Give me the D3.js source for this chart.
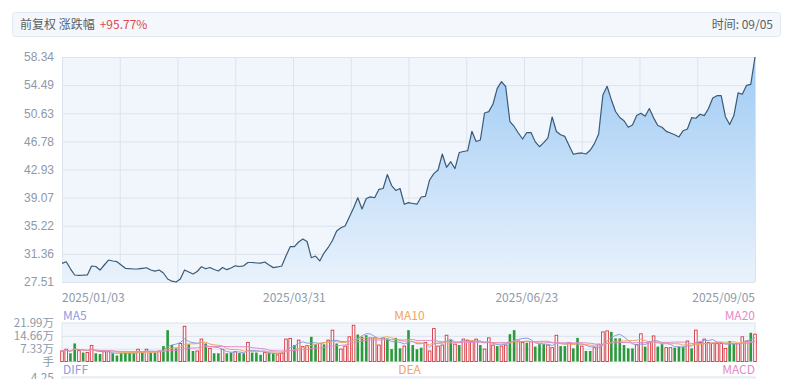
<!DOCTYPE html>
<html>
<head>
<meta charset="utf-8">
<script src="https://cdn.jsdelivr.net/npm/d3@7"></script>
<style>
    body { margin: 0; background: #fff; font-family: "Noto Sans CJK SC", "Noto Sans", sans-serif; }
    .tick-label { font-size: 12px; fill: #8e99aa; }
    .vol-label { font-size: 11.5px; }
</style>
</head>
<body>
<svg id="chart" width="792" height="379"></svg>
<script>
// daily close (front-adjusted), 2025/01/03 .. 2025/09/05
const closePrices = [
    30.07, 30.28, 29.32, 28.47, 28.43, 28.44, 28.47, 29.70, 29.63, 29.15,
    29.84, 30.52, 30.39, 30.29, 29.84, 29.39, 29.33, 29.29, 29.32, 29.39,
    29.46, 29.15, 28.99, 29.15, 28.74, 27.92, 27.62, 27.51, 27.92, 29.15,
    28.88, 28.61, 28.95, 29.61, 29.32, 29.50, 29.22, 29.02, 29.50, 29.20,
    29.43, 29.73, 29.63, 29.73, 30.18, 30.18, 30.11, 30.09, 30.25, 29.84,
    29.48, 29.57, 29.70, 31.07, 32.35, 32.35, 32.99, 33.40, 33.06, 30.84,
    31.07, 30.39, 31.48, 32.24, 33.20, 34.50, 34.95, 35.18, 36.42, 37.65,
    39.06, 37.51, 38.95, 39.18, 39.05, 40.21, 40.32, 42.24, 40.73, 40.05,
    40.32, 38.16, 38.38, 38.27, 38.17, 39.16, 39.23, 41.49, 42.36, 42.86,
    45.05, 43.23, 43.99, 43.05, 45.25, 45.39, 45.49, 48.16, 46.76, 46.97,
    50.67, 50.85, 51.90, 54.05, 54.96, 54.30, 49.50, 48.82, 47.93, 47.10,
    47.99, 47.99, 46.71, 46.05, 46.60, 47.26, 50.12, 48.13, 47.68, 47.46,
    46.21, 45.01, 45.14, 45.19, 45.05, 45.56, 46.47, 47.79, 53.13, 54.33,
    52.49, 50.87, 50.05, 49.61, 48.72, 49.02, 50.32, 50.63, 50.23, 51.28,
    50.00, 48.95, 48.71, 48.15, 47.93, 47.68, 47.39, 48.24, 48.47, 50.02,
    49.95, 50.50, 50.30, 51.28, 52.72, 53.04, 53.04, 50.16, 49.09, 50.32,
    53.43, 53.23, 54.46, 54.59, 58.34
];

// daily volume, unit 万手
const volumes = [
    6.0, 7.0, 4.7, 10.3, 6.2, 5.1, 5.1, 9.2, 4.7, 4.3,
    5.6, 5.6, 4.7, 3.4, 4.7, 5.1, 5.1, 5.1, 7.0, 5.1,
    7.0, 5.1, 5.1, 6.0, 8.8, 17.9, 9.4, 7.5, 10.3, 20.1,
    9.8, 6.0, 6.0, 12.8, 10.3, 7.5, 4.7, 4.7, 7.0, 4.7,
    5.1, 5.6, 4.9, 4.7, 10.9, 5.1, 5.1, 3.8, 5.1, 5.1,
    4.7, 3.8, 4.7, 12.8, 13.2, 9.4, 12.2, 8.5, 9.0, 14.1,
    9.8, 10.3, 9.8, 12.2, 17.9, 10.3, 7.1, 8.8, 14.1, 20.7,
    15.4, 14.1, 15.0, 13.5, 13.5, 9.4, 13.5, 13.2, 7.1, 13.5,
    7.5, 8.8, 17.9, 9.4, 7.0, 7.9, 10.9, 6.0, 18.8, 8.8,
    9.4, 15.0, 12.2, 9.9, 9.4, 12.8, 12.2, 11.7, 12.8, 9.4,
    7.1, 13.5, 9.4, 8.8, 8.8, 9.4, 15.6, 17.9, 11.7, 10.9,
    10.7, 11.3, 8.5, 9.9, 9.9, 9.4, 7.9, 15.0, 8.8, 8.8,
    10.9, 7.5, 13.5, 8.8, 6.0, 6.0, 7.9, 9.9, 16.9, 17.5,
    16.9, 13.2, 13.2, 9.4, 7.5, 7.5, 9.6, 15.8, 8.5, 11.3,
    14.6, 8.5, 9.9, 7.9, 7.9, 7.9, 8.5, 8.5, 11.7, 7.5,
    17.9, 10.9, 12.8, 10.9, 10.3, 10.3, 10.3, 7.5, 11.7, 10.3,
    10.3, 14.1, 11.7, 16.4, 15.6
];

// r = up day (hollow red), g = down day (solid green)
const volumeDirs = (
    'rrggrgrrgg' + 'rrggggggrg' + 'rggrggggrr' + 'ggrrgrggrg' +
    'grggrgggrg' + 'grrrrgrrrg' + 'grgrrgrrrr' + 'gggrrrrggg' +
    'grggggrrrr' + 'rrgrgrrrrg' + 'rrrgrrggrr' + 'grgggrrrgg' +
    'rggrggrrrr' + 'ggggggrrgr' + 'rggrrgggrg' + 'rrrrrrrrgg' +
    'rrrgr'
).split('');

const priceTicks = [27.51, 31.36, 35.22, 39.07, 42.93, 46.78, 50.63, 54.49, 58.34];
const volumeTicks = [21.99, 14.66, 7.33, 0];
const volumeTickLabels = ['21.99万', '14.66万', '7.33万', '手'];
const dateTickIndex = [0, 55, 110, 164];
const dateTickLabels = ['2025/01/03', '2025/03/31', '2025/06/23', '2025/09/05'];
const maPeriods = [5, 10, 20];
const maNames = ['MA5', 'MA10', 'MA20'];
const macdNames = ['DIFF', 'DEA', 'MACD'];

(function() {
    'use strict';

    const svg = d3.select('#chart');
    const left = 62, right = 755;
    const priceTop = 57, priceBottom = 282;
    const volTop = 323, volBottom = 361.5;
    const macdTop = 377;

    const maColors = ['#8f9bdc', '#f2a463', '#e58ac6'];
    const upColor = '#d8343d';
    const downColor = '#2c9a3b';
    const gridColor = '#dce3ec';

    // ---- header box
    svg.append('rect')
        .attr('x', 12.5).attr('y', 12.5)
        .attr('width', 768).attr('height', 24)
        .attr('rx', 3)
        .attr('fill', '#f4f7fb')
        .attr('stroke', '#e3e9f0');

    const head = svg.append('text')
        .attr('x', 20).attr('y', 29)
        .style('font-size', '12px')
        .style('fill', '#5a5f66');
    head.append('tspan').text('前复权 涨跌幅');
    head.append('tspan').attr('dx', 5).style('fill', '#e0474c').text('+95.77%');

    svg.append('text')
        .attr('x', 773).attr('y', 29)
        .attr('text-anchor', 'end')
        .style('font-size', '12px')
        .style('fill', '#5a5f66')
        .text('时间: 09/05');

    // ---- scales
    const x = d3.scaleLinear()
        .domain([0, closePrices.length - 1])
        .range([left, right]);

    const y = d3.scaleLinear()
        .domain([priceTicks[0], priceTicks[priceTicks.length - 1]])
        .range([priceBottom, priceTop]);

    const yVol = d3.scaleLinear()
        .domain([0, volumeTicks[0]])
        .range([volBottom, volTop]);

    // ---- price panel background + grid
    svg.append('rect')
        .attr('x', left).attr('y', priceTop)
        .attr('width', right - left).attr('height', priceBottom - priceTop)
        .attr('fill', '#f1f6fc');

    svg.append('g')
        .attr('transform', `translate(${left},0)`)
        .call(d3.axisLeft(y).tickValues(priceTicks).tickSize(-(right - left)).tickFormat(''))
        .call(g => g.select('.domain').remove())
        .selectAll('line').attr('stroke', gridColor);

    const colGrid = d3.scaleLinear().domain([0, 12]).range([left, right]);
    svg.append('g')
        .attr('transform', `translate(0,${priceBottom})`)
        .call(d3.axisBottom(colGrid).ticks(12).tickSize(-(priceBottom - priceTop)).tickFormat(''))
        .call(g => g.select('.domain').remove())
        .selectAll('line').attr('stroke', gridColor);

    // ---- area + line
    const defs = svg.append('defs');
    const grad = defs.append('linearGradient')
        .attr('id', 'areaFill')
        .attr('gradientUnits', 'userSpaceOnUse')
        .attr('x1', 0).attr('y1', priceTop)
        .attr('x2', 0).attr('y2', priceBottom);
    grad.append('stop').attr('offset', '0%').attr('stop-color', '#9fcbf4');
    grad.append('stop').attr('offset', '100%').attr('stop-color', '#e9f2fc');

    const area = d3.area()
        .x((d, i) => x(i))
        .y0(priceBottom)
        .y1(d => y(d));

    svg.append('path')
        .datum(closePrices)
        .attr('fill', 'url(#areaFill)')
        .attr('d', area);

    const line = d3.line()
        .x((d, i) => x(i))
        .y(d => y(d));

    svg.append('path')
        .datum(closePrices)
        .attr('fill', 'none')
        .attr('stroke', '#3b5a79')
        .attr('stroke-width', 1.2)
        .attr('stroke-linejoin', 'round')
        .attr('d', line);

    // ---- price axis labels
    svg.append('g')
        .attr('transform', `translate(${left - 8},0)`)
        .call(d3.axisLeft(y).tickValues(priceTicks).tickSize(0).tickFormat(d3.format('.2f')))
        .call(g => g.select('.domain').remove())
        .selectAll('text')
        .attr('class', 'tick-label')
        .attr('x', 0);

    // ---- date labels
    const anchors = ['start', 'middle', 'middle', 'end'];
    svg.selectAll('.date-label')
        .data(dateTickIndex)
        .enter()
        .append('text')
        .attr('class', 'tick-label date-label')
        .attr('x', d => x(d))
        .attr('y', 302)
        .attr('text-anchor', (d, i) => anchors[i])
        .text((d, i) => dateTickLabels[i]);

    // ---- MA legend
    const legendX = [left + 1, (left + right) / 2 + 1, right];
    const legendAnchor = ['start', 'middle', 'end'];
    maNames.forEach((name, i) => {
        svg.append('text')
            .attr('x', legendX[i]).attr('y', 320)
            .attr('text-anchor', legendAnchor[i])
            .style('font-size', '12px')
            .style('fill', maColors[i])
            .text(name);
    });

    // ---- volume panel
    svg.append('rect')
        .attr('x', left).attr('y', volTop)
        .attr('width', right - left).attr('height', volBottom - volTop)
        .attr('fill', '#f3f7fc')
        .attr('stroke', gridColor);

    svg.append('g')
        .attr('transform', `translate(${left},0)`)
        .call(d3.axisLeft(yVol).tickValues(volumeTicks.slice(1, 3)).tickSize(-(right - left)).tickFormat(''))
        .call(g => g.select('.domain').remove())
        .selectAll('line').attr('stroke', gridColor);

    svg.selectAll('.vol-label')
        .data(volumeTicks)
        .enter()
        .append('text')
        .attr('class', 'tick-label vol-label')
        .attr('x', left - 8)
        .attr('y', d => yVol(d) + 4)
        .attr('text-anchor', 'end')
        .text((d, i) => volumeTickLabels[i]);

    const barW = 2.6;
    svg.selectAll('.vol-bar')
        .data(volumes)
        .enter()
        .append('rect')
        .attr('class', 'vol-bar')
        .attr('x', (d, i) => x(i) - barW / 2)
        .attr('y', d => yVol(d))
        .attr('width', barW)
        .attr('height', d => volBottom - yVol(d))
        .attr('fill', (d, i) => volumeDirs[i] === 'r' ? '#fff' : downColor)
        .attr('stroke', (d, i) => volumeDirs[i] === 'r' ? upColor : 'none')
        .attr('stroke-width', 0.9);

    // volume moving averages
    maPeriods.forEach((p, k) => {
        const ma = volumes.map((v, i) => d3.mean(volumes.slice(Math.max(0, i - p + 1), i + 1)));
        svg.append('path')
            .datum(ma)
            .attr('fill', 'none')
            .attr('stroke', maColors[k])
            .attr('stroke-width', 1)
            .attr('d', d3.line().x((d, i) => x(i)).y(d => yVol(d)));
    });

    // ---- MACD panel (mostly clipped)
    macdNames.forEach((name, i) => {
        svg.append('text')
            .attr('x', legendX[i]).attr('y', 374)
            .attr('text-anchor', legendAnchor[i])
            .style('font-size', '12px')
            .style('fill', maColors[i])
            .text(name);
    });

    svg.append('rect')
        .attr('x', left).attr('y', macdTop)
        .attr('width', right - left).attr('height', 30)
        .attr('fill', '#f3f7fc')
        .attr('stroke', gridColor);

    svg.append('text')
        .attr('class', 'tick-label')
        .attr('x', left - 8).attr('y', 382)
        .attr('text-anchor', 'end')
        .text('4.25');
})();
</script>
</body>
</html>
